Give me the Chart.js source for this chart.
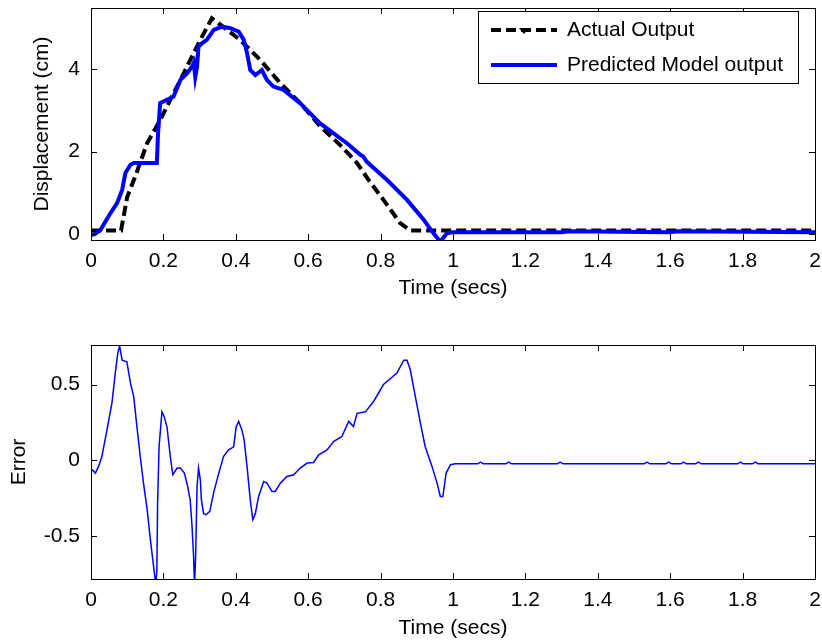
<!DOCTYPE html>
<html>
<head>
<meta charset="utf-8">
<script src="https://cdn.jsdelivr.net/npm/chart.js@4.4.1/dist/chart.umd.min.js"></script>
<style>
  html, body { margin: 0; padding: 0; background: #fff; }
  #wrap { position: relative; width: 822px; height: 641px; }
  canvas { position: absolute; left: 0; display: block; }
  #dispChart { top: 0; }
  #errChart { top: 301px; }
</style>
</head>
<body>
<div id="wrap">
  <canvas id="dispChart" width="822" height="301"></canvas>
  <canvas id="errChart" width="822" height="340"></canvas>
</div>
<script>
// x ticks shared by both panels
const timeTicks = [0, 0.2, 0.4, 0.6, 0.8, 1, 1.2, 1.4, 1.6, 1.8, 2];
const dispTicks = [0, 2, 4];
const errTicks = [-0.5, 0, 0.5];

// Actual output (black dashed)
const actualTime = [0, 0.083, 0.1, 0.122, 0.155, 0.191, 0.219, 0.247, 0.274, 0.302, 0.334, 0.36, 0.412, 0.468, 0.523, 0.578, 0.634, 0.689, 0.735, 0.767, 0.808, 0.854, 0.882, 0.9, 2];
const actualDisp = [0.09, 0.09, 0.9, 1.39, 2.2, 2.76, 3.25, 3.73, 4.21, 4.7, 5.22, 5.05, 4.7, 4.21, 3.65, 3.17, 2.6, 2.15, 1.72, 1.31, 0.83, 0.27, 0.09, 0.09, 0.09];

// Predicted model output (blue)
const predTime = [0, 0.01, 0.026, 0.053, 0.072, 0.086, 0.095, 0.109, 0.118, 0.182, 0.185, 0.191, 0.21, 0.228, 0.247, 0.265, 0.279, 0.284, 0.288, 0.293, 0.297, 0.307, 0.32, 0.339, 0.362, 0.385, 0.408, 0.422, 0.431, 0.44, 0.454, 0.472, 0.486, 0.504, 0.532, 0.58, 0.633, 0.707, 0.744, 0.752, 0.762, 0.781, 0.818, 0.873, 0.919, 0.946, 0.965, 0.983, 1.0, 1.3, 1.32, 1.6, 1.62, 2];
const predDisp = [-0.02, 0.0, 0.1, 0.5, 0.75, 1.07, 1.48, 1.68, 1.72, 1.72, 2.4, 3.17, 3.25, 3.33, 3.73, 3.89, 4.05, 4.15, 3.8, 4.05, 4.54, 4.62, 4.7, 4.94, 5.02, 4.98, 4.9, 4.7, 4.38, 3.97, 3.85, 3.97, 3.73, 3.57, 3.49, 3.15, 2.68, 2.2, 1.92, 1.88, 1.75, 1.6, 1.31, 0.83, 0.35, 0.02, -0.18, 0.02, 0.05, 0.05, 0.07, 0.05, 0.07, 0.05];

// Error (blue thin)
const errTime = [0, 0.003, 0.012, 0.021, 0.03, 0.044, 0.058, 0.067, 0.074, 0.079, 0.086, 0.099, 0.109, 0.118, 0.127, 0.136, 0.145, 0.155, 0.164, 0.173, 0.179, 0.182, 0.184, 0.188, 0.196, 0.202, 0.21, 0.219, 0.226, 0.238, 0.247, 0.258, 0.267, 0.274, 0.279, 0.283, 0.286, 0.289, 0.293, 0.297, 0.302, 0.305, 0.311, 0.318, 0.328, 0.339, 0.353, 0.366, 0.38, 0.394, 0.401, 0.408, 0.417, 0.423, 0.431, 0.44, 0.447, 0.454, 0.463, 0.477, 0.486, 0.5, 0.509, 0.523, 0.541, 0.56, 0.578, 0.597, 0.615, 0.629, 0.652, 0.67, 0.693, 0.712, 0.725, 0.735, 0.758, 0.781, 0.808, 0.845, 0.864, 0.873, 0.882, 0.896, 0.91, 0.923, 0.942, 0.956, 0.965, 0.972, 0.981, 0.993, 1.006, 1.068, 1.076, 1.084, 1.146, 1.154, 1.162, 1.288, 1.296, 1.304, 1.528, 1.536, 1.544, 1.588, 1.596, 1.604, 1.629, 1.637, 1.645, 1.67, 1.678, 1.686, 1.786, 1.794, 1.802, 1.827, 1.835, 1.843, 2];
const errVal = [-0.06, -0.061, -0.083, -0.039, 0.026, 0.2, 0.38, 0.575, 0.707, 0.755, 0.66, 0.65, 0.51, 0.42, 0.22, 0.026, -0.149, -0.32, -0.52, -0.7, -0.82, -0.72, -0.28, 0.09, 0.32, 0.29, 0.22, 0.026, -0.094, -0.05, -0.05, -0.083, -0.17, -0.26, -0.43, -0.61, -0.82, -0.63, -0.17, -0.05, -0.127, -0.26, -0.35, -0.357, -0.335, -0.21, -0.083, 0.026, 0.07, 0.09, 0.22, 0.257, 0.2, 0.136, -0.039, -0.26, -0.39, -0.35, -0.237, -0.138, -0.149, -0.204, -0.204, -0.149, -0.105, -0.094, -0.05, -0.017, -0.013, 0.037, 0.07, 0.125, 0.158, 0.257, 0.224, 0.31, 0.32, 0.39, 0.5, 0.575, 0.66, 0.66, 0.597, 0.42, 0.246, 0.092, -0.039, -0.149, -0.237, -0.237, -0.083, -0.028, -0.022, -0.022, -0.011, -0.022, -0.022, -0.011, -0.022, -0.022, -0.011, -0.022, -0.022, -0.011, -0.022, -0.022, -0.011, -0.022, -0.022, -0.011, -0.022, -0.022, -0.011, -0.022, -0.022, -0.011, -0.022, -0.022, -0.011, -0.022, -0.022];

const axisColor = '#000';
const tickLen = 6;
const labelFont = { family: "'Liberation Sans', Arial, sans-serif", size: 21 };

function toPoints(xs, ys) {
    return xs.map((t, i) => ({ x: t, y: ys[i] }));
}

// box around the axes + inward ticks on all four sides
const boxTicks = {
    id: 'boxTicks',
    afterDatasetsDraw(chart) {
        const { ctx, chartArea: a, scales: { x, y } } = chart;
        ctx.save();
        ctx.strokeStyle = axisColor;
        ctx.lineWidth = 1;
        ctx.beginPath();
        x.ticks.forEach(t => {
            const px = Math.round(x.getPixelForValue(t.value)) + 0.5;
            ctx.moveTo(px, a.bottom);
            ctx.lineTo(px, a.bottom - tickLen);
            ctx.moveTo(px, a.top);
            ctx.lineTo(px, a.top + tickLen);
        });
        y.ticks.forEach(t => {
            const py = Math.round(y.getPixelForValue(t.value)) + 0.5;
            ctx.moveTo(a.left, py);
            ctx.lineTo(a.left + tickLen, py);
            ctx.moveTo(a.right, py);
            ctx.lineTo(a.right - tickLen, py);
        });
        ctx.stroke();
        ctx.strokeRect(Math.round(a.left) + 0.5, Math.round(a.top) + 0.5,
            Math.round(a.right - a.left), Math.round(a.bottom - a.top));
        ctx.restore();
    }
};

// MATLAB-like boxed legend, top right
const boxLegend = {
    id: 'boxLegend',
    afterDraw(chart) {
        const ctx = chart.ctx;
        const bx = 478, by = 11, bw = 320, bh = 72;
        ctx.save();
        ctx.fillStyle = '#fff';
        ctx.fillRect(bx, by, bw, bh);
        ctx.strokeStyle = axisColor;
        ctx.lineWidth = 1;
        ctx.strokeRect(bx + 0.5, by + 0.5, bw, bh);
        ctx.font = `${labelFont.size}px ${labelFont.family}`;
        ctx.textBaseline = 'middle';
        chart.data.datasets.forEach((ds, i) => {
            const ly = by + 19 + i * 35;
            ctx.strokeStyle = ds.borderColor;
            ctx.lineWidth = ds.borderWidth;
            ctx.setLineDash(ds.borderDash || []);
            ctx.beginPath();
            ctx.moveTo(bx + 13, ly);
            ctx.lineTo(bx + 79, ly);
            ctx.stroke();
            ctx.setLineDash([]);
            if (ds.borderDash) {
                ctx.fillStyle = ds.borderColor;
                ctx.beginPath();
                ctx.moveTo(bx + 41, ly - 2);
                ctx.lineTo(bx + 51, ly - 2);
                ctx.lineTo(bx + 46, ly + 4);
                ctx.closePath();
                ctx.fill();
            }
            ctx.fillStyle = '#000';
            ctx.fillText(ds.label, bx + 89, ly);
        });
        ctx.restore();
    }
};

// no extra room for half-labels at the ends of the axes
function noEdgePadding(s) {
    s.paddingLeft = 0;
    s.paddingRight = 0;
    s.paddingTop = 0;
    s.paddingBottom = 0;
}

function xScale(height) {
    return {
        type: 'linear',
        min: 0,
        max: 2,
        afterBuildTicks: s => { s.ticks = timeTicks.map(v => ({ value: v })); },
        afterFit: s => { s.height = height; noEdgePadding(s); },
        grid: { display: false, drawTicks: false },
        border: { display: false },
        ticks: { padding: 9, color: '#000', font: labelFont, maxRotation: 0, autoSkip: false, callback: v => String(v) },
        title: { display: true, text: 'Time (secs)', color: '#000', font: labelFont, padding: 0 }
    };
}

function yScale(min, max, tickVals, title, titlePad) {
    return {
        type: 'linear',
        min: min,
        max: max,
        afterBuildTicks: s => { s.ticks = tickVals.map(v => ({ value: v })); },
        afterFit: s => { s.width = 91; noEdgePadding(s); },
        grid: { display: false, drawTicks: false },
        border: { display: false },
        ticks: { padding: 11, color: '#000', font: labelFont, autoSkip: false, callback: v => String(v) },
        title: { display: true, text: title, color: '#000', font: labelFont, padding: { top: titlePad, bottom: 0 } }
    };
}

const baseOptions = {
    responsive: false,
    animation: false,
    devicePixelRatio: 1,
    plugins: { legend: { display: false }, tooltip: { enabled: false } },
    elements: { point: { radius: 0 }, line: { tension: 0 } }
};

new Chart(document.getElementById('dispChart'), {
    type: 'scatter',
    data: {
        datasets: [
            {
                label: 'Actual Output',
                data: toPoints(actualTime, actualDisp),
                showLine: true,
                borderColor: '#000',
                borderWidth: 4,
                borderDash: [10, 5],
                order: 1
            },
            {
                label: 'Predicted Model output',
                data: toPoints(predTime, predDisp),
                showLine: true,
                borderColor: '#0000ff',
                borderWidth: 4,
                order: 0
            }
        ]
    },
    options: {
        ...baseOptions,
        layout: { padding: { top: 8, right: 7, left: 0, bottom: 0 } },
        scales: {
            x: xScale(61),
            y: yScale(-0.14, 5.47, dispTicks, 'Displacement (cm)', 30)
        }
    },
    plugins: [boxTicks, boxLegend]
});

new Chart(document.getElementById('errChart'), {
    type: 'scatter',
    data: {
        datasets: [{
            label: 'Error',
            data: toPoints(errTime, errVal),
            showLine: true,
            borderColor: '#0000ff',
            borderWidth: 1.5
        }]
    },
    options: {
        ...baseOptions,
        layout: { padding: { top: 44, right: 7, left: 0, bottom: 0 } },
        scales: {
            x: xScale(62),
            y: yScale(-0.78, 0.76, errTicks, 'Error', 7)
        }
    },
    plugins: [boxTicks]
});
</script>
</body>
</html>
